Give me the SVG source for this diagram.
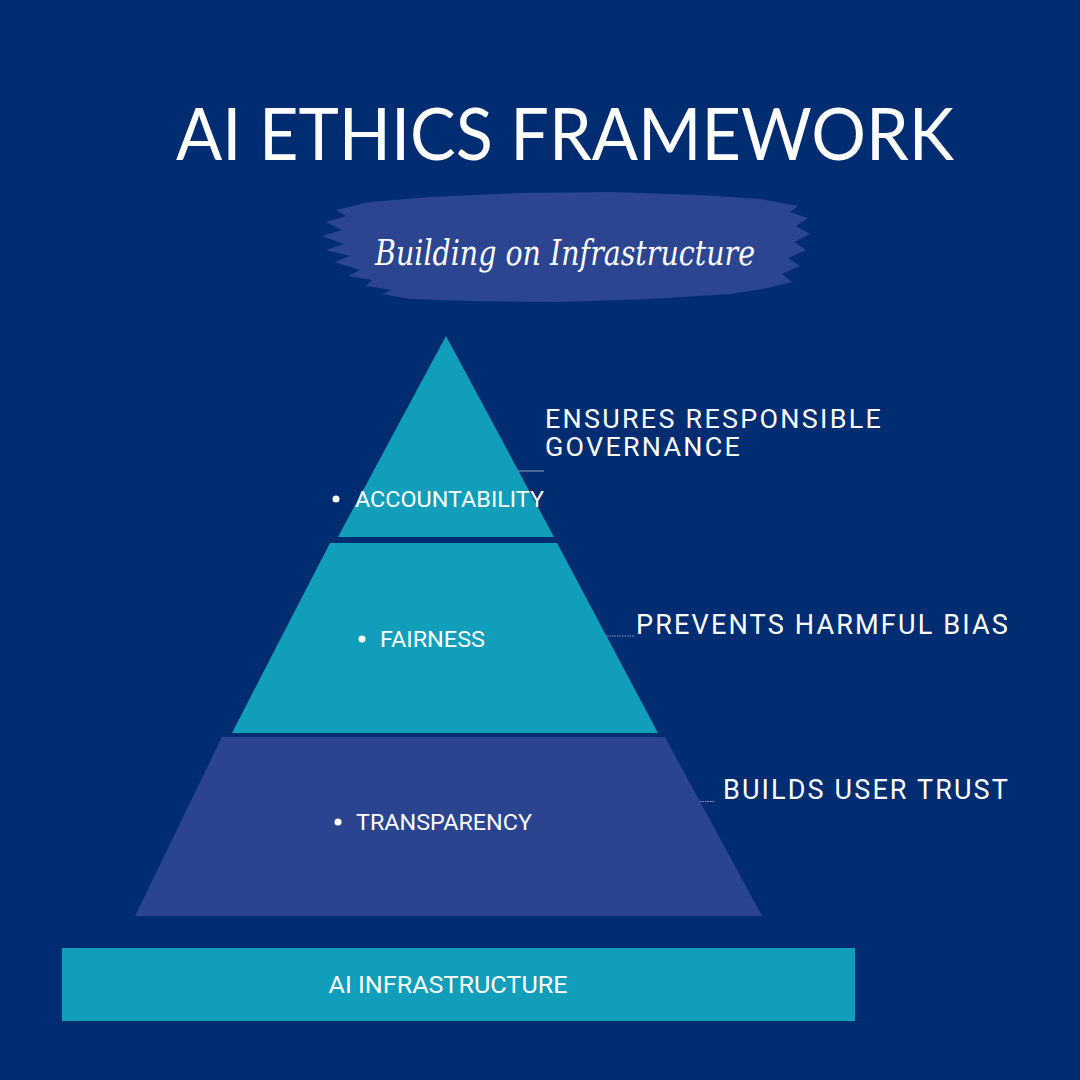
<svg xmlns="http://www.w3.org/2000/svg" width="1080" height="1080" viewBox="0 0 1080 1080">
<style>
.teal{fill:#119eba}
.blue{fill:#2a448f}
.lbl{font-family:Roboto,"Liberation Sans",sans-serif;fill:#ffffff}
.side{font-family:Roboto,"Liberation Sans",sans-serif;fill:#ffffff;font-size:28px;letter-spacing:2.2px}
.side2{font-family:Roboto,"Liberation Sans",sans-serif;fill:#ffffff;font-size:26px;letter-spacing:2.2px}
.conn{stroke:#8f9fc4;stroke-width:1;fill:none}
.dot{stroke:#8f9fc4;stroke-width:1;fill:none;stroke-dasharray:1.5 1}
</style>
<rect width="1080" height="1080" fill="#002d71"/>
<text x="565" y="160" text-anchor="middle" font-family="Lato,'Noto Sans',sans-serif" font-weight="400" font-size="72" fill="#ffffff" textLength="778" lengthAdjust="spacingAndGlyphs">AI ETHICS FRAMEWORK</text>
<g id="subtitle">
<path d="M336 210 L370 202 L430 197 L520 193 L610 192 L700 195 L760 199 L798 206 L790 212 L808 218 L796 226 L810 234 L794 242 L806 250 L788 258 L800 266 L782 274 L792 282 L768 288 L730 294 L650 299 L560 302 L470 301 L410 299 L382 294 L392 290 L366 286 L372 280 L348 276 L360 270 L334 262 L350 256 L326 250 L344 244 L322 236 L342 230 L326 222 L346 216 Z" fill="#2c4590"/>
<text x="565" y="265" text-anchor="middle" font-family="'DejaVu Serif','Liberation Serif',serif" font-style="italic" font-weight="300" font-size="36" fill="#ffffff" textLength="380" lengthAdjust="spacingAndGlyphs">Building on Infrastructure</text>
</g>
<g id="accountability">
<polygon class="teal" points="446,336 554,537 338,537"/>
<circle cx="336" cy="499" r="3.5" fill="#ffffff"/>
<text class="lbl" x="355" y="507" font-size="22" textLength="189" lengthAdjust="spacingAndGlyphs">ACCOUNTABILITY</text>
</g>
<g id="fairness">
<polygon class="teal" points="330,543 557,543 658,733 232,733"/>
<circle cx="362" cy="639" r="3.5" fill="#ffffff"/>
<text class="lbl" x="380" y="647" font-size="22" textLength="105" lengthAdjust="spacingAndGlyphs">FAIRNESS</text>
</g>
<g id="transparency">
<polygon class="blue" points="222,737 665,737 762,916 135,916"/>
<circle cx="338" cy="822" r="3.5" fill="#ffffff"/>
<text class="lbl" x="356" y="830" font-size="22" textLength="176" lengthAdjust="spacingAndGlyphs">TRANSPARENCY</text>
</g>
<g id="infrastructure">
<rect class="teal" x="62" y="948" width="793" height="73"/>
<text class="lbl" x="448" y="993" font-size="24" text-anchor="middle" textLength="239" lengthAdjust="spacingAndGlyphs">AI INFRASTRUCTURE</text>
</g>
<g id="governance">
<text class="side2" x="545" y="428" textLength="338" lengthAdjust="spacingAndGlyphs">ENSURES RESPONSIBLE</text>
<text class="side2" x="545" y="456" textLength="197" lengthAdjust="spacingAndGlyphs">GOVERNANCE</text>
</g>
<g id="bias">
<text class="side" x="636" y="634" textLength="374" lengthAdjust="spacingAndGlyphs">PREVENTS HARMFUL BIAS</text>
</g>
<g id="trust">
<text class="side" x="723" y="799" textLength="287" lengthAdjust="spacingAndGlyphs">BUILDS USER TRUST</text>
</g>
<g id="connectors">
<line class="conn" x1="518" y1="471" x2="544" y2="471"/>
<line class="dot" x1="607" y1="636" x2="635" y2="636"/>
<line class="dot" x1="700" y1="801.5" x2="714" y2="801.5"/>
</g>
</svg>
